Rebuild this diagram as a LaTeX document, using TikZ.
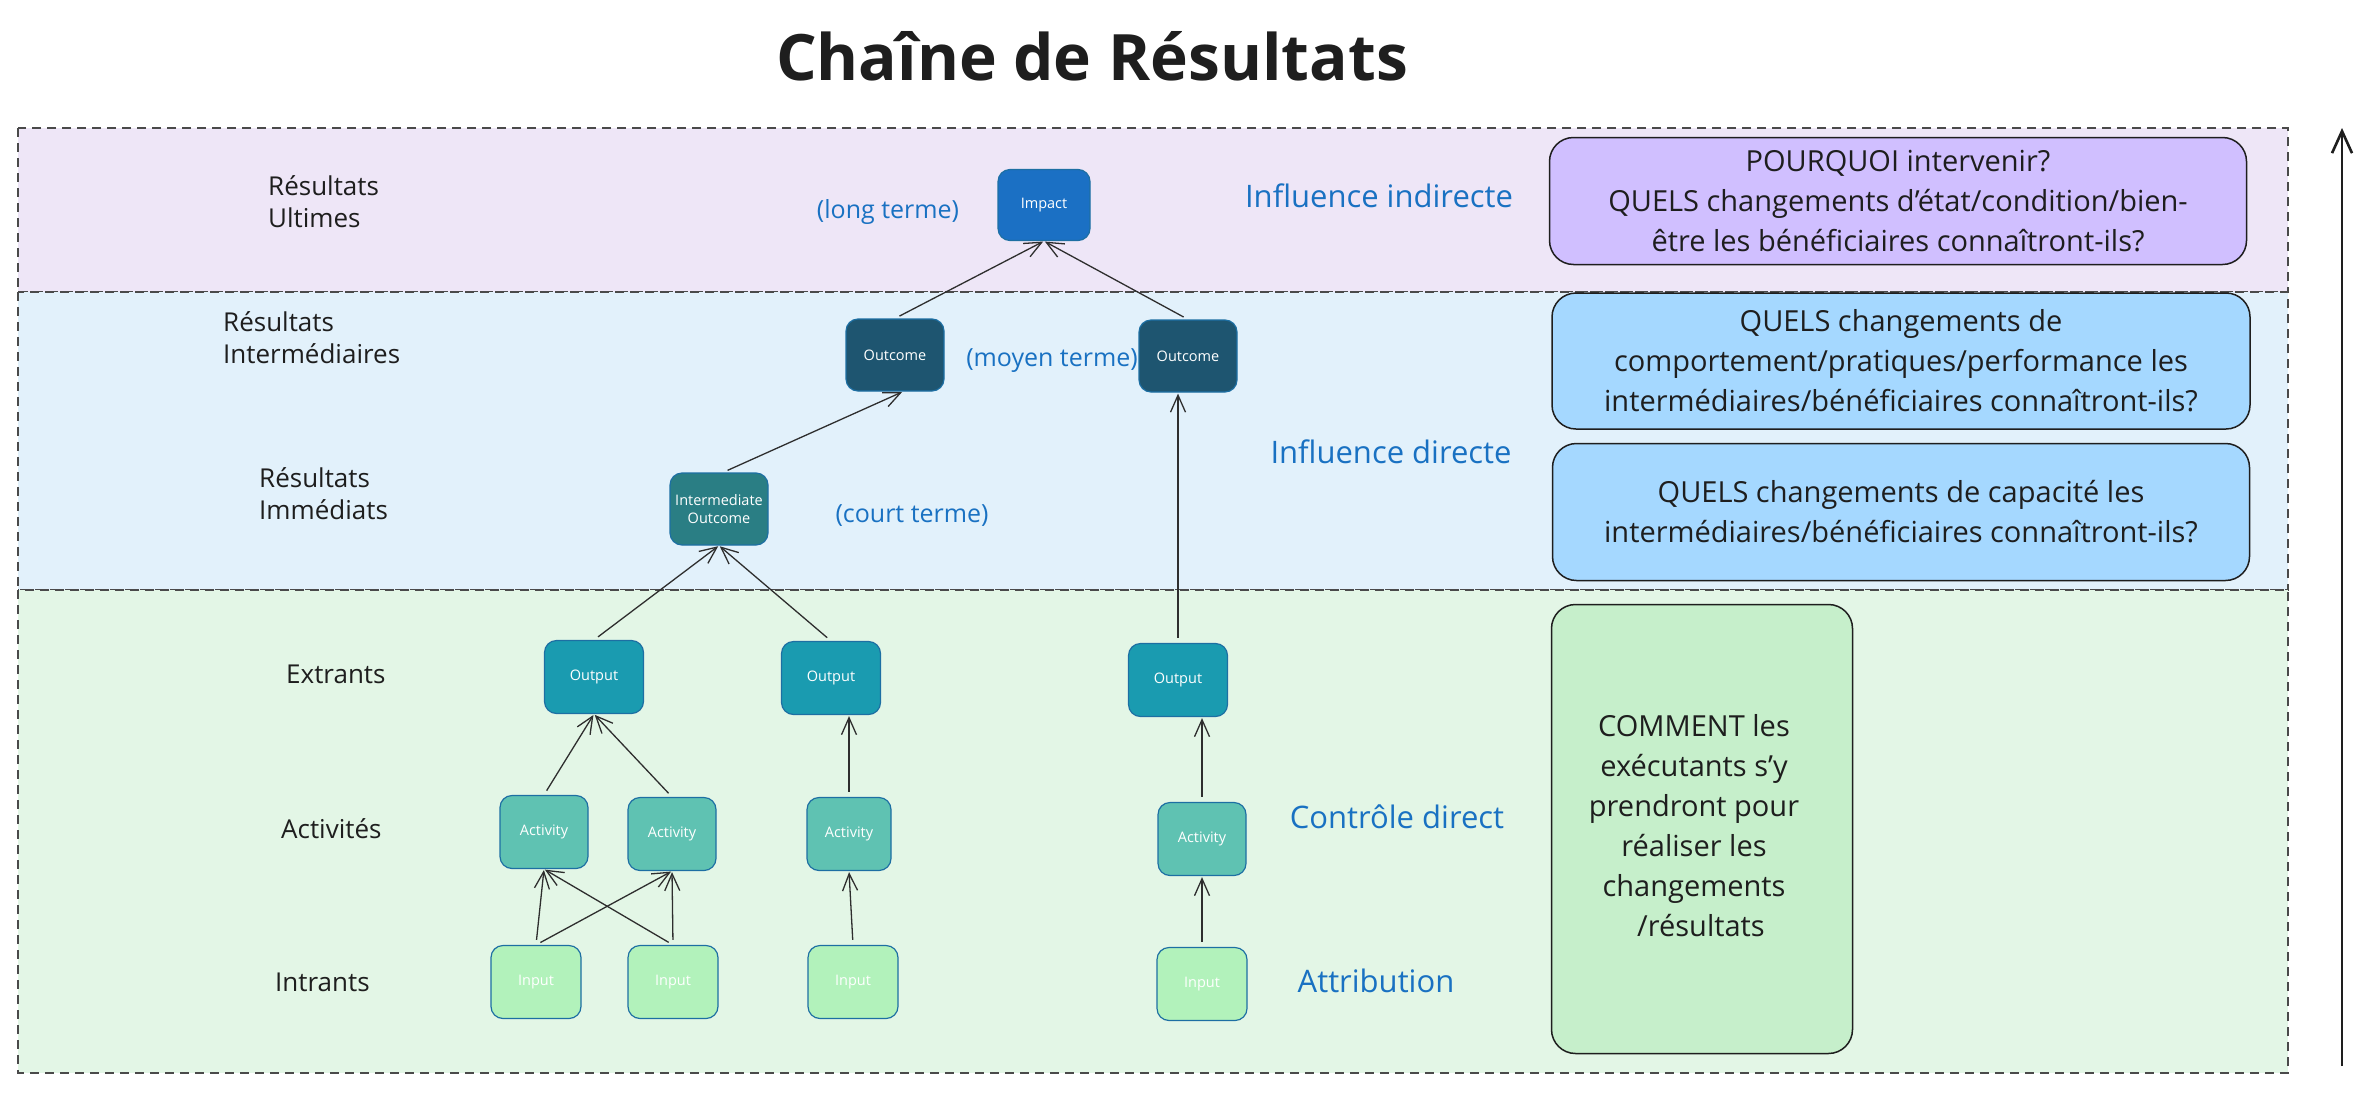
\documentclass[tikz,border=0pt]{standalone}
\usepackage{fontspec}
\setmainfont{Open Sans}
\usetikzlibrary{arrows.meta}
\definecolor{inkc}{HTML}{1E1E1E}
\definecolor{bluetext}{HTML}{1971C2}
\definecolor{bandline}{HTML}{4A4A4A}
\definecolor{purpleband}{HTML}{EEE6F7}
\definecolor{blueband}{HTML}{E2F1FB}
\definecolor{greenband}{HTML}{E3F6E6}
\definecolor{impactc}{HTML}{1B70C4}
\definecolor{outcomec}{HTML}{1E5570}
\definecolor{ioc}{HTML}{2A7E84}
\definecolor{outputc}{HTML}{1A9BB0}
\definecolor{activityc}{HTML}{5FC2B2}
\definecolor{inputc}{HTML}{B2F2BB}
\definecolor{nodeline}{HTML}{1D6FA3}
\definecolor{purplebox}{HTML}{D0BFFF}
\definecolor{bluebox}{HTML}{A5D8FF}
\definecolor{greenbox}{HTML}{C6EFCB}
\definecolor{connc}{HTML}{2E2E2E}
\tikzset{
  band/.style={draw=bandline, line width=1.6pt, dash pattern=on 9pt off 6pt},
  nbox/.style={rounded corners=12pt, draw=nodeline, line width=1.2pt, text=white,
    font=\fontsize{14.5}{18}\selectfont, align=center, inner sep=2pt},
  impactbox/.style={nbox, fill=impactc, minimum width=92pt, minimum height=71pt},
  outcomebox/.style={nbox, fill=outcomec, minimum width=98pt, minimum height=72pt},
  iobox/.style={nbox, fill=ioc, minimum width=98pt, minimum height=72pt},
  outputbox/.style={nbox, fill=outputc, minimum width=99pt, minimum height=73pt},
  activitybox/.style={nbox, fill=activityc, minimum width=88pt, minimum height=73pt},
  inputbox/.style={nbox, fill=inputc, minimum width=90pt, minimum height=73pt},
  leftlab/.style={text=inkc, font=\fontsize{26}{32}\selectfont, align=left, anchor=west, inner sep=0pt},
  bluelab/.style={text=bluetext, font=\fontsize{31}{38}\selectfont, inner sep=0pt},
  termlab/.style={text=bluetext, font=\fontsize{25}{30}\selectfont, inner sep=0pt},
  qbox/.style={rounded corners=24pt, draw=inkc, line width=1.5pt, text=inkc,
    font=\fontsize{29}{40}\selectfont, align=center, inner sep=0pt},
  boxtext/.style={text=inkc, font=\fontsize{29}{40}\selectfont, align=center, inner sep=0pt},
  conn/.style={draw=connc, line width=1.3pt, shorten <=5pt, shorten >=1pt,
    -{Straight Barb[length=17pt,width=15pt,line width=1.3pt]}},
  bigarrow/.style={draw=inkc, line width=2.6pt,
    -{Straight Barb[length=22pt,width=20pt,line width=2.6pt]}}
}
\begin{document}
\begin{tikzpicture}[x=1pt,y=-1pt]
\useasboundingbox[fill=white] (0,0) rectangle (2360,1114);

% bands
\draw[band, fill=purpleband] (18,128) rectangle (2288,292);
\draw[band, fill=blueband] (18,292) rectangle (2288,590);
\draw[band, fill=greenband] (18,590) rectangle (2288,1073);

% title
\node[text=inkc, font=\bfseries\fontsize{64}{70}\selectfont, inner sep=0pt] (title) at (1092,56) {Chaîne de Résultats};

% left labels
\node[leftlab] (lult) at (268,202) {Résultats\\Ultimes};
\node[leftlab] (linter) at (223,338) {Résultats\\Intermédiaires};
\node[leftlab] (limm) at (259,494) {Résultats\\Immédiats};
\node[leftlab] (lext) at (286,674) {Extrants};
\node[leftlab] (lact) at (281,829) {Activités};
\node[leftlab] (lint) at (275,982) {Intrants};

% chain nodes
\node[impactbox] (impact) at (1044,205) {Impact};
\node[outcomebox] (o1) at (895,355) {Outcome};
\node[outcomebox] (o2) at (1188,356) {Outcome};
\node[iobox] (io) at (719,509) {Intermediate\\Outcome};
\node[outputbox] (out1) at (594,677) {Output};
\node[outputbox] (out2) at (831,678) {Output};
\node[outputbox] (out3) at (1178,680) {Output};
\node[activitybox] (a1) at (544,832) {Activity};
\node[activitybox] (a2) at (672,834) {Activity};
\node[activitybox, minimum width=84pt] (a3) at (849,834) {Activity};
\node[activitybox] (a4) at (1202,839) {Activity};
\node[inputbox] (i1) at (536,982) {Input};
\node[inputbox] (i2) at (673,982) {Input};
\node[inputbox] (i3) at (853,982) {Input};
\node[inputbox] (i4) at (1202,984) {Input};

% blue labels
\node[termlab] (tlong) at (888,212) {(long terme)};
\node[termlab] (tmoyen) at (1052,361) {(moyen terme)};
\node[termlab] (tcourt) at (912,516) {(court terme)};
\node[bluelab] (infind) at (1379,196) {Influence indirecte};
\node[bluelab] (infdir) at (1391,452) {Influence directe};
\node[bluelab] (ctrl) at (1397,817) {Contrôle direct};
\node[bluelab] (attr) at (1376,981) {Attribution};

% connectors
\draw[conn] (o1.north) -- (impact.south);
\draw[conn] (o2.north) -- (impact.south);
\draw[conn] ([xshift=4pt]io.north) -- ([xshift=8pt]o1.south);
\draw[conn] (out3.north) -- (out3.north |- o2.south);
\draw[conn] (out1.north) -- (io.south);
\draw[conn] (out2.north) -- (io.south);
\draw[conn] (a1.north) -- (out1.south);
\draw[conn] (a2.north) -- (out1.south);
\draw[conn] (a3.north) -- (a3.north |- out2.south);
\draw[conn] (a4.north) -- (a4.north |- out3.south);
\draw[conn] (i1.north) -- (a1.south);
\draw[conn] (i1.north) -- (a2.south);
\draw[conn] (i2.north) -- (a1.south);
\draw[conn] (i2.north) -- (a2.south);
\draw[conn] (i3.north) -- (a3.south);
\draw[conn] (i4.north) -- (a4.south);

% right question boxes
\node[qbox, fill=purplebox, minimum width=697pt, minimum height=127pt] (qpourquoi) at (1898,201)
  {POURQUOI intervenir?\\QUELS changements d'état/condition/bien-\\être les bénéficiaires connaîtront-ils?};
\node[qbox, fill=bluebox, minimum width=698pt, minimum height=136pt] (qcomport) at (1901,361)
  {QUELS changements de\\comportement/pratiques/performance les\\intermédiaires/bénéficiaires connaîtront-ils?};
\node[qbox, fill=bluebox, minimum width=697pt, minimum height=137pt] (qcapac) at (1901,512)
  {QUELS changements de capacité les\\intermédiaires/bénéficiaires connaîtront-ils?};
\node[qbox, fill=greenbox, minimum width=301pt, minimum height=449pt] (qcomment) at (1702,829) {};
\node[boxtext] (tcomment) at (1694,826)
  {COMMENT les\\exécutants s'y\\prendront pour\\réaliser les\\changements\\\hspace*{14pt}/résultats};

% vertical arrow
\coordinate (arrS) at (2342,1066);
\coordinate (arrE) at (2342,128);
\draw[bigarrow] (arrS) -- (arrE);
\end{tikzpicture}
\end{document}
